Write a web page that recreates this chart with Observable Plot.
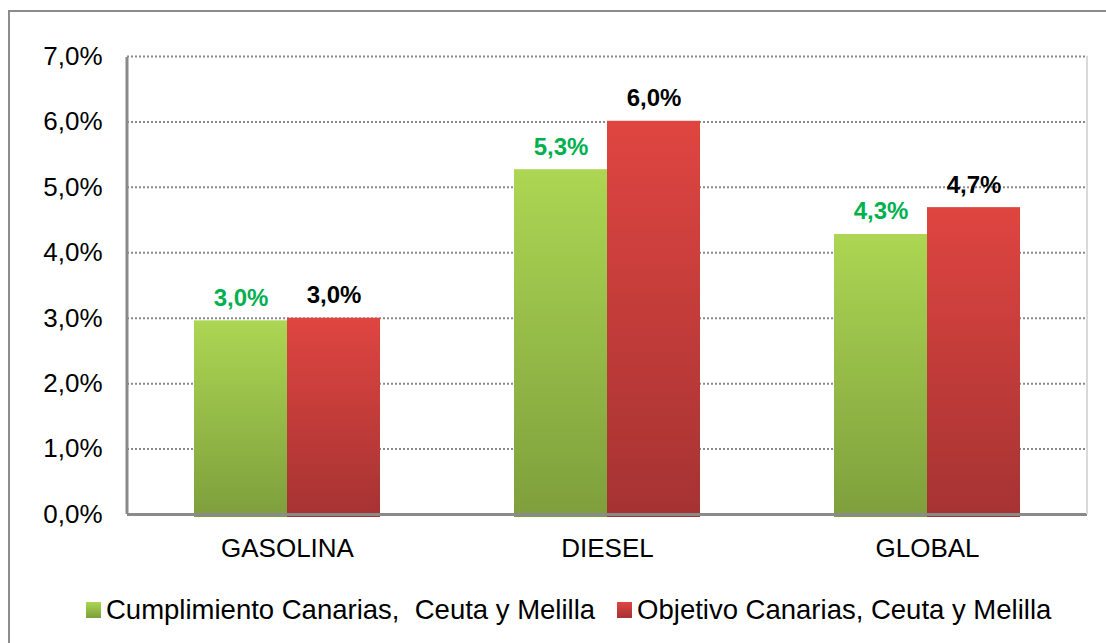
<!DOCTYPE html>
<html><head><meta charset="utf-8">
<script src="https://cdn.jsdelivr.net/npm/d3@7"></script>
<script src="https://cdn.jsdelivr.net/npm/@observablehq/plot@0.6"></script>
<style>
body{margin:0;background:#fff;font-family:"Liberation Sans",Arial,sans-serif;}
#wrap{position:relative;width:1106px;height:643px;overflow:hidden;background:#fff;}
#frame{position:absolute;left:8px;top:10px;width:1200px;height:700px;border:2px solid #8c8c8c;box-sizing:border-box;}
#chart{position:absolute;left:0;top:0;}
#legend{position:absolute;left:86px;top:594px;display:flex;align-items:center;font-size:27.5px;color:#000;white-space:pre;}
.sw{display:inline-block;width:15px;height:16px;margin-right:5px;}
.item{display:flex;align-items:center;margin-right:22px;}
</style></head>
<body>
<div id="wrap"><div id="frame"></div><div id="chart"></div><div id="legend"></div></div>
<script>
const categories = ["GASOLINA", "DIESEL", "GLOBAL"];
const seriesNames = ["Cumplimiento Canarias,  Ceuta y Melilla", "Objetivo Canarias, Ceuta y Melilla"];
const cumplimiento = [2.96, 5.27, 4.28];
const objetivo = [3.0, 6.01, 4.69];
const yTicks = [0, 1, 2, 3, 4, 5, 6, 7];

const fmt = v => v.toFixed(1).replace(".", ",") + "%";

const rows = [];
categories.forEach((c, i) => {
  rows.push({cat: c, series: seriesNames[0], value: cumplimiento[i]});
  rows.push({cat: c, series: seriesNames[1], value: objetivo[i]});
});
const green = rows.filter(d => d.series === seriesNames[0]);
const red = rows.filter(d => d.series === seriesNames[1]);

const W = 1106, H = 580;
const plot = Plot.plot({
  width: W, height: H,
  marginTop: 56, marginBottom: 66, marginLeft: 127, marginRight: 19,
  style: {fontFamily: '"Liberation Sans", Arial, sans-serif', background: "transparent", overflow: "visible"},
  fx: {domain: categories, padding: 0, label: null},
  x: {domain: seriesNames, paddingInner: 0, paddingOuter: 0.72, axis: null},
  y: {domain: [0, 7], label: null},
  marks: [
    Plot.gridY(yTicks, {stroke: "#8a8a8a", strokeOpacity: 1, strokeWidth: 2, strokeDasharray: "2 2"}),
    Plot.barY(green, {fx: "cat", x: "series", y: "value", fill: "url(#gGreen)", insetBottom: -3}),
    Plot.barY(red, {fx: "cat", x: "series", y: "value", fill: "url(#gRed)", insetBottom: -3}),
    Plot.ruleY([0], {stroke: "#8a8a8a", strokeWidth: 3}),
    Plot.text(green, {fx: "cat", x: "series", y: "value", text: d => fmt(d.value), fill: "#00b050", fontWeight: "bold", fontSize: 24, lineAnchor: "bottom", dy: -15}),
    Plot.text(red, {fx: "cat", x: "series", y: "value", text: d => fmt(d.value), fill: "#000", fontWeight: "bold", fontSize: 24, lineAnchor: "bottom", dy: -15}),
    Plot.axisY(yTicks, {tickSize: 0, tickPadding: 25, tickFormat: fmt, fontSize: 26, fill: "#000", label: null}),
    Plot.axisFx({anchor: "bottom", tickSize: 0, tickPadding: 24, fontSize: 26, fill: "#000", label: null})
  ]
});

const svg = d3.select(plot);
const defs = svg.insert("defs", ":first-child");
const gg = defs.append("linearGradient").attr("id", "gGreen").attr("x1", 0).attr("y1", 0).attr("x2", 0).attr("y2", 1);
gg.append("stop").attr("offset", "0%").attr("stop-color", "#acd653");
gg.append("stop").attr("offset", "100%").attr("stop-color", "#7e9f3c");
const gr = defs.append("linearGradient").attr("id", "gRed").attr("x1", 0).attr("y1", 0).attr("x2", 0).attr("y2", 1);
gr.append("stop").attr("offset", "0%").attr("stop-color", "#df4541");
gr.append("stop").attr("offset", "100%").attr("stop-color", "#a53332");

// plot-area left axis line and right border, derived from the scales
const yScale = plot.scale("y");
const yTop = yScale.apply(7), yBot = yScale.apply(0);
const xLeft = 127, xRight = W - 19;
svg.append("line").attr("x1", xRight).attr("x2", xRight).attr("y1", yTop).attr("y2", yBot)
  .attr("stroke", "#d9d9d9").attr("stroke-width", 2);
svg.append("line").attr("x1", xLeft).attr("x2", xLeft).attr("y1", yTop + 1).attr("y2", yBot)
  .attr("stroke", "#8a8a8a").attr("stroke-width", 3);

document.getElementById("chart").appendChild(plot);

const legend = document.getElementById("legend");
const sw = [["#acd653", "#7e9f3c"], ["#df4541", "#a53332"]];
seriesNames.forEach((s, i) => {
  const it = document.createElement("div");
  it.className = "item";
  const b = document.createElement("span");
  b.className = "sw";
  b.style.background = `linear-gradient(${sw[i][0]}, ${sw[i][1]})`;
  const t = document.createElement("span");
  t.textContent = s;
  it.appendChild(b); it.appendChild(t);
  legend.appendChild(it);
});
</script>
</body></html>
